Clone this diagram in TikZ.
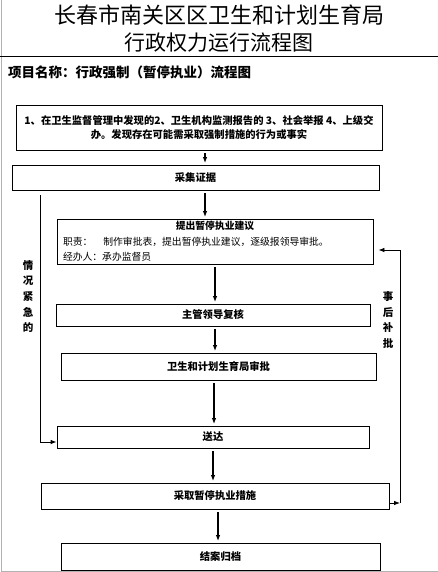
\documentclass[tikz,border=0pt]{standalone}
\usepackage{fontspec}
\setmainfont{Noto Sans CJK SC}
\usetikzlibrary{arrows.meta, positioning, calc}

\begin{document}
\begin{tikzpicture}[x=1pt, y=-1pt,
    box/.style={draw, line width=0.8pt, inner sep=0pt, align=center, font=\fontsize{10.3}{14}\selectfont\bfseries},
    arr/.style={line width=1.2pt, -{Latex[length=6pt, width=4.5pt]}, shorten <=3pt, shorten >=1.5pt},
    link/.style={line width=0.8pt},
    side/.style={align=center, inner sep=0pt, font=\fontsize{10.5}{15.7}\selectfont\bfseries}]
    \useasboundingbox (0,0) rectangle (438,572);
    \draw[gray!60, line width=1pt] (1,0) -- (1,571) -- (438,571);
    \node[font=\fontsize{22}{26}\selectfont] (biaoti) at (219,15) {长春市南关区区卫生和计划生育局};
    \node[font=\fontsize{21}{26}\selectfont] (fubiaoti) at (219,43) {行政权力运行流程图};
    \draw[line width=0.8pt] (0,56) -- (438,56);
    \node[anchor=west, inner sep=0pt, font=\fontsize{13.5}{16}\selectfont\bfseries] (xiangmu) at (8,72) {项目名称：行政强制（暂停执业）流程图};

    \node[box, minimum width=366pt, minimum height=45pt] (faxian) at (199,127.5)
        {1、在卫生监督管理中发现的2、卫生机构监测报告的 3、社会举报 4、上级交\\办。发现存在可能需采取强制措施的行为或事实};
    \node[box, minimum width=367pt, minimum height=25pt] (caiji) at (195.5,177.5) {采集证据};
    \node[draw, line width=0.8pt, minimum width=316pt, minimum height=45pt, text width=304pt, inner xsep=6pt, inner ysep=0pt,
        align=left, font=\fontsize{9.8}{15.5}\selectfont] (tichu) at (215,241.5)
        {\makebox[304pt]{\bfseries 提出暂停执业建议}\\职责：\hspace{11pt}制作审批表，提出暂停执业建议，逐级报领导审批。\\经办人：承办监督员};
    \node[box, minimum width=314pt, minimum height=22pt] (fuhe) at (213,315) {主管领导复核};
    \node[box, minimum width=315pt, minimum height=27pt] (shenpi) at (218.5,366.5) {卫生和计划生育局审批};
    \node[box, minimum width=312pt, minimum height=22pt] (songda) at (213,437) {送达};
    \node[box, minimum width=348pt, minimum height=26pt] (cuoshi) at (215,496) {采取暂停执业措施};
    \node[box, minimum width=319pt, minimum height=27pt] (guidang) at (220.5,556.5) {结案归档};

    \node[side] (jinjiwz) at (28,296.5) {情\\况\\紧\\急\\的};
    \node[side] (bupiwz) at (388,320) {事\\后\\补\\批};

    % 主流程
    \draw[arr] ([xshift=6pt]faxian.south) -- ([xshift=6pt]faxian.south |- caiji.north);
    \draw[arr] ([xshift=9.5pt]caiji.south) -- ([xshift=9.5pt]caiji.south |- tichu.north);
    \draw[arr] (tichu.south) -- (tichu.south |- fuhe.north);
    \draw[arr] ([xshift=2pt]fuhe.south) -- ([xshift=2pt]fuhe.south |- shenpi.north);
    \draw[arr] ([xshift=-4.5pt]shenpi.south) -- ([xshift=-4.5pt]shenpi.south |- songda.north);
    \draw[arr] (songda.south) -- (songda.south |- cuoshi.north);
    \draw[arr] ([xshift=3pt]cuoshi.south) -- ([xshift=3pt]cuoshi.south |- guidang.north);

    % 情况紧急的
    \coordinate (jinji) at (40,195);
    \draw[link, -{Latex[length=6pt, width=4.5pt]}] (jinji) |- ([yshift=-5pt]songda.west);

    % 事后补批
    \coordinate (bupi) at (400,503);
    \draw[link, -{Latex[length=6pt, width=4.5pt]}] ([yshift=-7pt]cuoshi.east) -- (bupi);
    \draw[link, -{Latex[length=6pt, width=4.5pt]}, shorten >=5pt] (bupi) |- ([yshift=-8.5pt]tichu.east);
\end{tikzpicture}
\end{document}
